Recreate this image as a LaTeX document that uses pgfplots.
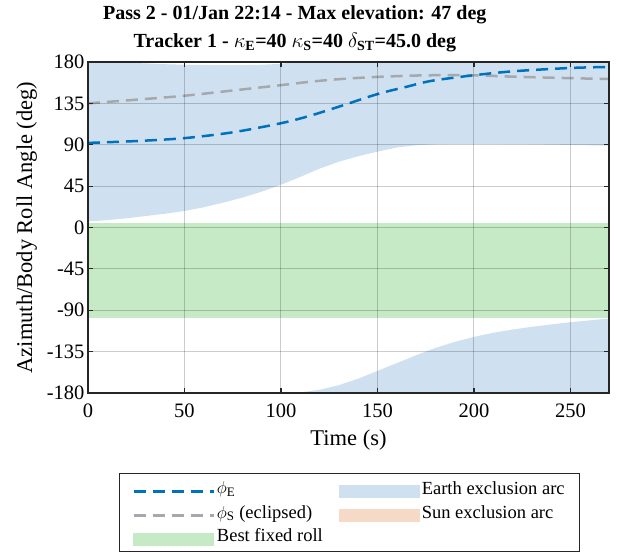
\documentclass[border=0pt]{standalone}
\usepackage{pgfplots}
\pgfplotsset{compat=1.18}
\usepackage{fontspec}
\setmainfont{Liberation Serif}
\definecolor{mblue}{rgb}{0,0.447,0.741}
\definecolor{mgray}{RGB}{165,168,172}
\definecolor{earthfill}{RGB}{207,225,240}
\definecolor{sunfill}{RGB}{247,217,200}
\definecolor{bestfill}{RGB}{198,234,198}
\definecolor{axcol}{RGB}{38,38,38}
\pgfplotsset{
  lineleg/.style={legend image code/.code={\draw[##1] (0pt,-3pt) -- (80pt,-3pt);}},
  arealeg/.style={legend image code/.code={\fill[##1] (0pt,-9pt) rectangle (80pt,3pt);}},
}
\begin{document}
\begin{tikzpicture}
\begin{axis}[name=ax, scale only axis, width=521pt, height=331pt,
  xmin=0, xmax=270, ymin=-180, ymax=180,
  xtick={0,50,...,250}, ytick={-180,-135,...,180},
  tick align=inside, tick pos=both, major tick length=5pt,
  axis line style={axcol, line width=1.2pt},
  tick style={axcol, line width=1.2pt},
  grid=major, grid style={black, opacity=0.2, line width=1pt},
  axis on top,
  /pgf/number format/assume math mode=true,
  ticklabel style={font=\fontsize{20.5}{24}\selectfont},
  xticklabel style={yshift=-7pt},
  xlabel={Time (s)}, ylabel={Azimuth/Body Roll Angle (deg)},
  label style={font=\fontsize{22.5}{24}\selectfont},
  xlabel shift=6pt, ylabel shift=3pt,
  title={Pass 2 - 01/Jan 22:14 - Max elevation: 47 deg\\Tracker 1 - $\kappa_{\mathbf{E}}$=40 $\kappa_{\mathbf{S}}$=40 $\delta_{\mathbf{ST}}$=45.0 deg},
  title style={at={(0.397,1)}, anchor=south, yshift=4pt, inner sep=0pt, align=center, font=\bfseries\fontsize{20}{28}\selectfont},
  legend columns=2,
  legend cell align=left,
  legend style={at={(0.502,0)}, anchor=north, yshift=-80pt, draw=axcol, line width=1pt,
    font=\fontsize{18.5}{22}\selectfont, row sep=5pt, inner xsep=12.5pt, inner ysep=6pt,
    /tikz/every even column/.append style={column sep=14pt}},
]
% Earth exclusion arc (upper part)
\addplot[draw=none, fill=earthfill, forget plot] coordinates {
(0,6.5) (10,8) (20,10) (30,12.5) (40,15) (50,18) (60,22) (70,27) (80,32.5) (90,39)
(100,46.5) (110,55) (120,64) (130,71.5) (140,77.5) (150,82.5) (160,87) (170,89.5)
(180,90.5) (190,91) (200,91) (215,90.8) (230,90.5) (250,89.8) (270,89)
(270,180) (110,180) (105,179.3) (100,178) (90,177) (75,176.5) (60,176.8) (50,177) (40,177.6) (30,178.5) (15,179.5) (0,180)
} -- cycle;
% Earth exclusion arc (wrapped lower part)
\addplot[draw=none, fill=earthfill, forget plot] coordinates {
(104,-180) (110,-179.3) (120,-176.5) (130,-171.5) (140,-164.5) (150,-156) (160,-147.5)
(170,-139) (180,-131) (190,-124.5) (200,-119) (210,-114.5) (220,-111) (230,-108)
(240,-105.5) (250,-103) (260,-101) (270,-99) (270,-180)
} -- cycle;
% Best fixed roll
\addplot[draw=none, fill=bestfill, forget plot] coordinates {
(0,-98) (270,-98) (270,5) (0,5)
} -- cycle;
% phi_S
\addplot[mgray, line width=2.5pt, dash pattern=on 12pt off 7pt, smooth, forget plot] coordinates {
(0,135) (25,139) (50,143.3) (75,149) (100,154.8) (115,158.5) (130,161.3) (150,163.8)
(175,165.5) (200,165.5) (221,164) (250,162.4) (270,161.5)
};
% phi_E
\addplot[mblue, line width=2.5pt, dash pattern=on 12pt off 7pt, smooth, forget plot] coordinates {
(0,92) (25,94) (50,97.2) (75,103.5) (100,113.4) (115,121.5) (130,131.4) (150,145.1)
(165,153) (178,159.5) (200,165.6) (221,170) (250,173.5) (270,174.6)
};
\addlegendimage{lineleg, mblue, line width=2.5pt, dash pattern=on 12pt off 7pt}
\addlegendentry{$\phi_{\mathrm{E}}$}
\addlegendimage{arealeg, earthfill}
\addlegendentry{Earth exclusion arc}
\addlegendimage{lineleg, mgray, line width=2.5pt, dash pattern=on 12pt off 7pt}
\addlegendentry{$\phi_{\mathrm{S}}$ (eclipsed)}
\addlegendimage{arealeg, sunfill}
\addlegendentry{Sun exclusion arc}
\addlegendimage{arealeg, bestfill}
\addlegendentry{Best fixed roll}
\end{axis}
\pgfresetboundingbox
\path ([xshift=-88pt,yshift=-159pt]ax.south west) rectangle ([xshift=9pt,yshift=62pt]ax.north east);
\end{tikzpicture}
\end{document}
